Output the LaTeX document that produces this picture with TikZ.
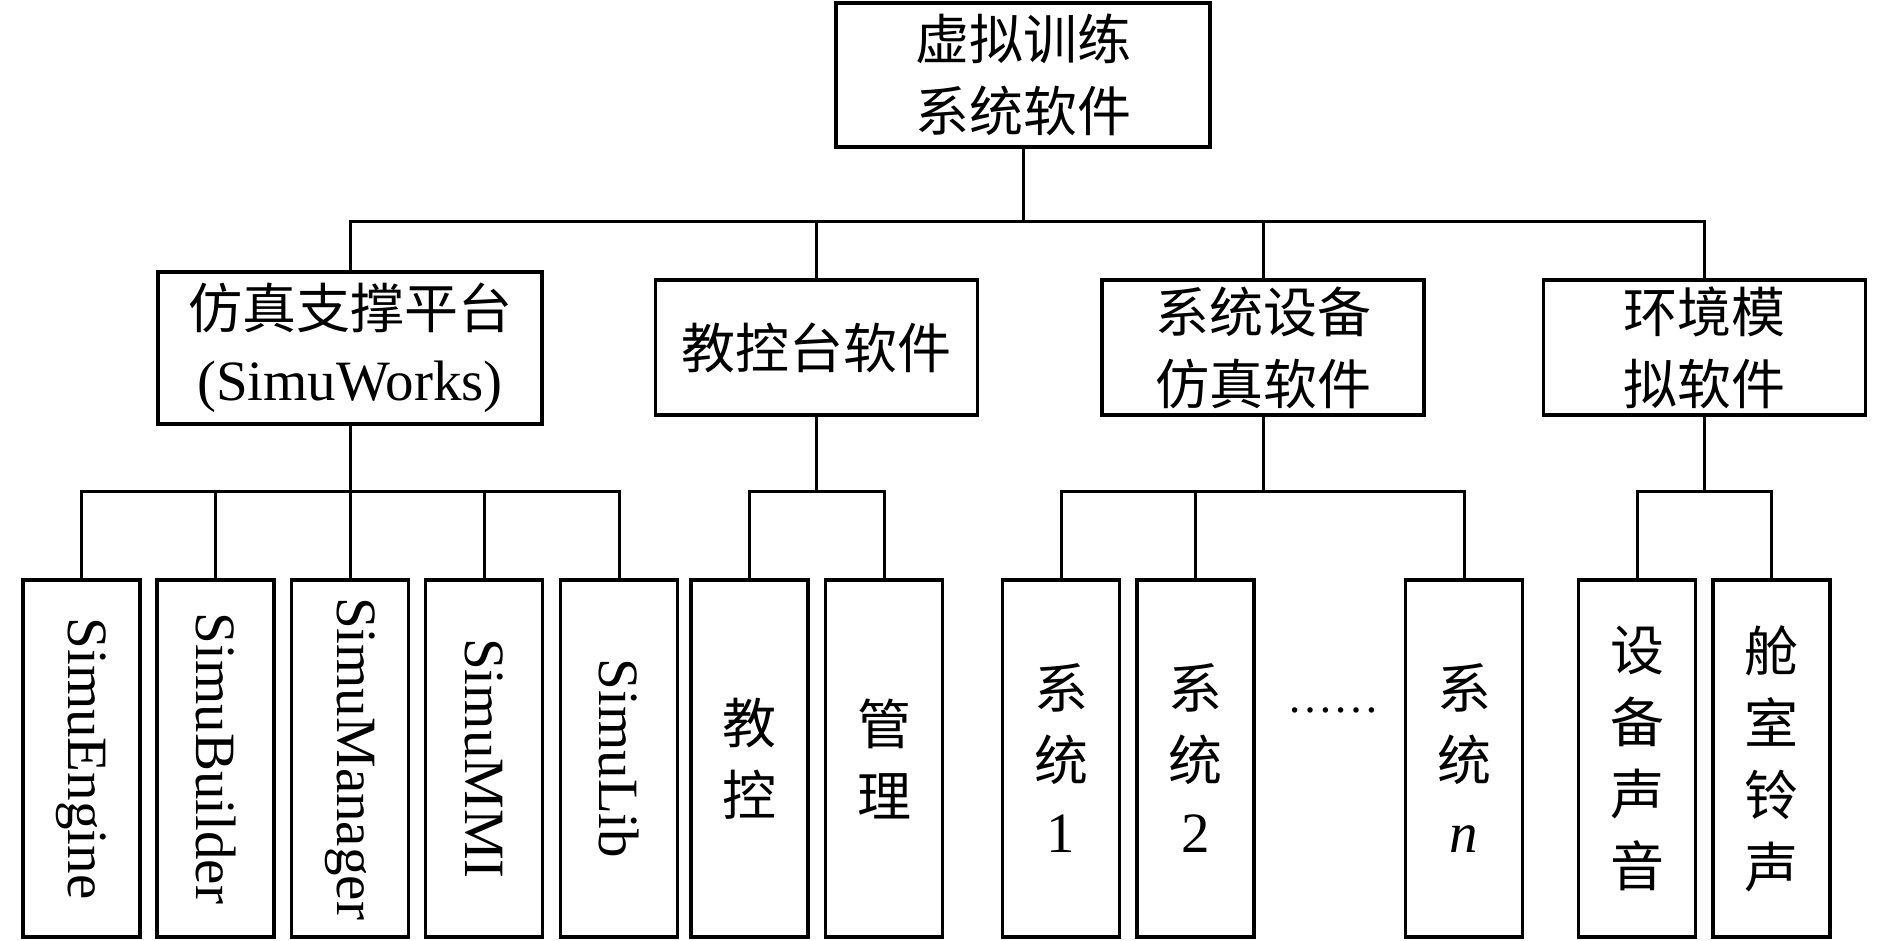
\documentclass[tikz,border=0pt]{standalone}
\usepackage{fontspec}
\usepackage{graphicx}
\setmainfont{Liberation Serif}
\newfontfamily\cjk{Noto Sans CJK SC}
\usepackage{tikz}
\usetikzlibrary{positioning}

\newcommand{\simu}[1]{\rotatebox{-90}{\fontsize{28.5}{36}\selectfont\rmfamily Simu#1}}

\begin{document}
\begin{tikzpicture}[x=0.5pt,y=-0.5pt,line width=1.5pt,
                    every node/.style={font=\fontsize{27}{36}\selectfont\cjk}]
  \tikzstyle{box}=[draw,line width=1.9pt,align=center,inner sep=0pt]
  \tikzstyle{mid}=[box,minimum width=161pt,minimum height=67.5pt]
  \tikzstyle{leaf}=[box,minimum width=58.5pt,minimum height=178.5pt]
  \useasboundingbox (0,0) rectangle (1890,941);

  % top level
  \node[box,minimum width=187pt,minimum height=72pt] (root) at (1023,75) {虚拟训练\\系统软件};

  % second level
  \node[box,minimum width=192pt,minimum height=76pt] (sw) at (350,348)
       {仿真支撑平台\\{\fontsize{28.5}{36}\selectfont\rmfamily (SimuWorks)}};
  \node[mid] (ctl) at (816.5,347.5) {教控台软件};
  \node[mid] (dev) at (1263,347.5)  {系统设备\\仿真软件};
  \node[mid] (env) at (1704.5,347.5) {环境模\\拟软件};

  % leaves
  \node[leaf] (engine)  at (81.5,758.5)  {\simu{Engine}};
  \node[leaf] (builder) at (215.5,758.5) {\simu{Builder}};
  \node[leaf] (manager) at (350,758.5)   {\simu{Manager}};
  \node[leaf] (mmi)     at (484,758.5)   {\simu{MMI}};
  \node[leaf] (lib)     at (619,758.5)   {\simu{Lib}};
  \node[leaf] (teach)   at (749.5,758.5) {教\\控};
  \node[leaf] (manage)  at (884,758.5)   {管\\理};
  \node[leaf] (sys1)    at (1061,758.5)  {系\\统\\{\fontsize{28.5}{36}\selectfont\rmfamily 1}};
  \node[leaf] (sys2)    at (1195.5,758.5) {系\\统\\{\fontsize{28.5}{36}\selectfont\rmfamily 2}};
  \node[font=\fontsize{23}{26}\selectfont\rmfamily] (dots) at (1333,710) {……};
  \node[leaf] (sysn)    at (1464,758.5)  {系\\统\\{\fontsize{28.5}{36}\selectfont\rmfamily\itshape n}};
  \node[leaf] (sound)   at (1637,758.5)  {设\\备\\声\\音};
  \node[leaf] (bell)    at (1771.5,758.5) {舱\\室\\铃\\声};

  % connectors
  \coordinate (busA) at (0,222);
  \coordinate (busB) at (0,491);
  \draw (root.south) -- (root.south |- busA);
  \draw (sw.north) |- (busA -| env.north) -- (env.north);
  \draw (ctl.north) -- (ctl.north |- busA);
  \draw (dev.north) -- (dev.north |- busA);

  \draw (sw.south) -- (sw.south |- busB);
  \draw (engine.north) |- (busB -| lib.north) -- (lib.north);
  \draw (builder.north) -- (builder.north |- busB);
  \draw (manager.north) -- (manager.north |- busB);
  \draw (mmi.north) -- (mmi.north |- busB);

  \draw (ctl.south) -- (ctl.south |- busB);
  \draw (teach.north) |- (busB -| manage.north) -- (manage.north);

  \draw (dev.south) -- (dev.south |- busB);
  \draw (sys1.north) |- (busB -| sysn.north) -- (sysn.north);
  \draw (sys2.north) -- (sys2.north |- busB);

  \draw (env.south) -- (env.south |- busB);
  \draw (sound.north) |- (busB -| bell.north) -- (bell.north);
\end{tikzpicture}
\end{document}
